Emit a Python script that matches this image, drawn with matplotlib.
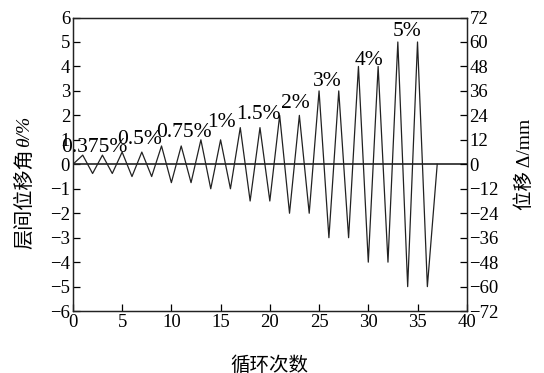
import matplotlib
matplotlib.use("Agg")
import matplotlib.pyplot as plt

plt.rcParams['font.family'] = ['Liberation Serif', 'Noto Sans CJK SC']

# Loading protocol: drift amplitude levels (%), two cycles each
levels = [0.375, 0.5, 0.75, 1, 1.5, 2, 3, 4, 5]
cycles_per_level = 2
level_labels = ["0.375%", "0.5%", "0.75%", "1%", "1.5%", "2%", "3%", "4%", "5%"]
label_x = [2.2, 6.8, 11.3, 15.05, 18.8, 22.6, 25.8, 30.1, 33.9]
label_y = [0.69, 1.03, 1.3, 1.71, 2.05, 2.5, 3.39, 4.23, 5.44]
mm_per_pct = 12

# build the sequence of reversal points
theta = [0.0]
for a in levels:
    for _ in range(cycles_per_level):
        theta += [a, -a]
theta.append(0.0)
x = list(range(len(theta)))

W, H = 544, 373
fig = plt.figure(figsize=(W / 100, H / 100), dpi=100)
ax = fig.add_axes([0.134, 0.166, 0.724, 0.787])
ax.plot(x, theta, color='#222222', lw=0.9)
ax.axhline(0, color='#222222', lw=1.2)

ax.set_xlim(0, 40)
ax.set_ylim(-6, 6)
ax.set_xticks(range(0, 41, 5))
ax.set_yticks(range(-6, 7, 1))
ax.tick_params(direction='in', length=5, width=0.9, labelsize=13.5, pad=2,
               top=False, right=False)
for s in ax.spines.values():
    s.set_linewidth(0.9)
    s.set_color('#222222')

for t, xx, yy in zip(level_labels, label_x, label_y):
    ax.text(xx, yy, t, fontsize=15.5, ha='center', va='center')

ax.set_xlabel("循环次数", fontsize=14, labelpad=18)

# left y label: Chinese part + italic theta part
fig.text(25 / W, 1 - 249 / H, "层间位移角", rotation=90, fontsize=14.5,
         ha='center', va='bottom')
fig.text(25 / W, 1 - 147 / H, "θ/%", rotation=90, fontsize=14,
         style='italic', ha='center', va='bottom')

ax2 = ax.twinx()
ax2.set_ylim(-6 * mm_per_pct, 6 * mm_per_pct)
ax2.set_yticks(range(-72, 73, 12))
ax2.tick_params(direction='in', length=5, width=0.9, labelsize=13.5, pad=2)
ax2.set_ylabel("位移 Δ/mm", fontsize=14, labelpad=12, rotation=90)
for s in ax2.spines.values():
    s.set_linewidth(0.9)
    s.set_color('#222222')

fig.savefig("out.png", dpi=100)
